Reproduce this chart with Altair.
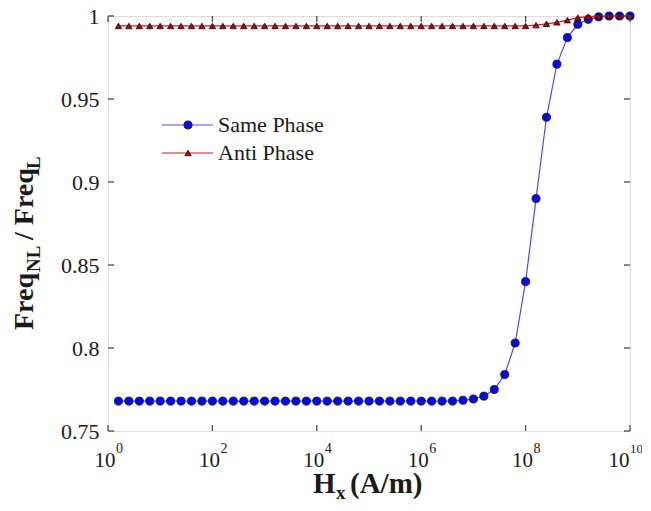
import altair as alt
import pandas as pd

# ---------------- data ----------------
h_exponents = [0.2, 0.4, 0.6, 0.8, 1.0, 1.2, 1.4, 1.6, 1.8, 2.0,
               2.2, 2.4, 2.6, 2.8, 3.0, 3.2, 3.4, 3.6, 3.8, 4.0,
               4.2, 4.4, 4.6, 4.8, 5.0, 5.2, 5.4, 5.6, 5.8, 6.0,
               6.2, 6.4, 6.6, 6.8, 7.0, 7.2, 7.4, 7.6, 7.8, 8.0,
               8.2, 8.4, 8.6, 8.8, 9.0, 9.2, 9.4, 9.6, 9.8, 10.0]

same_phase = [0.768, 0.768, 0.768, 0.768, 0.768, 0.768, 0.768, 0.768, 0.768, 0.768,
              0.768, 0.768, 0.768, 0.768, 0.768, 0.768, 0.768, 0.768, 0.768, 0.768,
              0.768, 0.768, 0.768, 0.768, 0.768, 0.768, 0.768, 0.768, 0.768, 0.768,
              0.768, 0.768, 0.768, 0.7685, 0.7693, 0.771, 0.775, 0.784, 0.803, 0.840,
              0.890, 0.939, 0.971, 0.987, 0.995, 0.998, 0.9995, 1.0, 1.0, 1.0]

anti_phase = [0.994, 0.994, 0.994, 0.994, 0.994, 0.994, 0.994, 0.994, 0.994, 0.994,
              0.994, 0.994, 0.994, 0.994, 0.994, 0.994, 0.994, 0.994, 0.994, 0.994,
              0.994, 0.994, 0.994, 0.994, 0.994, 0.994, 0.994, 0.994, 0.994, 0.994,
              0.994, 0.994, 0.994, 0.994, 0.994, 0.994, 0.994, 0.994, 0.994, 0.994,
              0.9945, 0.9953, 0.9962, 0.9975, 0.999, 0.9996, 1.0, 1.0, 1.0, 1.0]

series_names = ["Same Phase", "Anti Phase"]
x_tick_exponents = [0, 2, 4, 6, 8, 10]
y_ticks = [0.75, 0.8, 0.85, 0.9, 0.95, 1.0]

# ---------------- layout / style ----------------
W, H = 522, 415
FONT = "'Liberation Serif', 'Times New Roman', Times, serif"
BLUE_LINE = "#4a4aff"
BLUE_FILL = "#0a0ae0"
RED_LINE = "#e3121c"
RED_FILL = "#a80a0a"
AXIS_COLOR = "#4a4a4a"
TEXT_COLOR = "#1a1a1a"

df = pd.DataFrame({
    "H": [10 ** e for e in h_exponents],
    "same": same_phase,
    "anti": anti_phase,
})
xt = pd.DataFrame({
    "H": [10 ** e for e in x_tick_exponents],
    "exp": [str(e) for e in x_tick_exponents],
})
yt = pd.DataFrame({"v": y_ticks})

xs = alt.Scale(type="log", domain=[1, 1e10], nice=False)
ys = alt.Scale(domain=[0.75, 1.0], nice=False, zero=False)

X = alt.X("H:Q", scale=xs, axis=None)

yaxis = alt.Axis(values=y_ticks, format="~g", ticks=False, domain=False, grid=False,
                 labelFont=FONT, labelFontSize=22, labelColor=TEXT_COLOR,
                 labelPadding=9, title=None)


def Y(field):
    return alt.Y(field, scale=ys, axis=yaxis)


base = alt.Chart(df)

blue_line = base.mark_line(color=BLUE_LINE, strokeWidth=1.2).encode(x=X, y=Y("same:Q"))
blue_pts = base.mark_point(shape="circle", filled=True, fill=BLUE_FILL, stroke="#10103a",
                           strokeWidth=0.8, size=66, opacity=1).encode(x=X, y=Y("same:Q"))
red_line = base.mark_line(color=RED_LINE, strokeWidth=1.2).encode(x=X, y=Y("anti:Q"))
red_pts = base.mark_point(shape="triangle-up", filled=True, fill=RED_FILL, stroke="#200000",
                          strokeWidth=0.8, size=40, opacity=1).encode(x=X, y=Y("anti:Q"))

# inward ticks on all four sides
tick_x_bottom = alt.Chart(xt).mark_rule(color=AXIS_COLOR, strokeWidth=1.3).encode(
    x=X, y=alt.value(H), y2=alt.value(H - 6))
tick_x_top = alt.Chart(xt).mark_rule(color=AXIS_COLOR, strokeWidth=1.3).encode(
    x=X, y=alt.value(0), y2=alt.value(6))
tick_y_left = alt.Chart(yt).mark_rule(color=AXIS_COLOR, strokeWidth=1.3).encode(
    y=Y("v:Q"), x=alt.value(0), x2=alt.value(6))
tick_y_right = alt.Chart(yt).mark_rule(color=AXIS_COLOR, strokeWidth=1.3).encode(
    y=Y("v:Q"), x=alt.value(W), x2=alt.value(W - 6))

# x tick labels: 10 with superscript exponent
xt_inner = alt.Chart(xt).transform_filter(alt.datum.exp != "10")
xt_last = alt.Chart(xt).transform_filter(alt.datum.exp == "10")
xlab_base = xt_inner.mark_text(font=FONT, fontSize=21, color=TEXT_COLOR,
                               align="center", baseline="alphabetic", dx=-3).encode(
    x=X, y=alt.value(451), text=alt.value("10"))
xlab_exp = xt_inner.mark_text(font=FONT, fontSize=14, color=TEXT_COLOR,
                              align="left", baseline="alphabetic", dx=8).encode(
    x=X, y=alt.value(437), text="exp:N")
xlab_base_last = xt_last.mark_text(font=FONT, fontSize=21, color=TEXT_COLOR,
                                   align="center", baseline="alphabetic", dx=-11).encode(
    x=X, y=alt.value(451), text=alt.value("10"))
xlab_exp_last = xt_last.mark_text(font=FONT, fontSize=13, color=TEXT_COLOR,
                                  align="left", baseline="alphabetic", dx=0).encode(
    x=X, y=alt.value(437), text="exp:N")

# legend (drawn by hand: line + marker + label)
leg = pd.DataFrame({"name": series_names})
leg_same = alt.Chart(leg).transform_filter(alt.datum.name == series_names[0])
leg_anti = alt.Chart(leg).transform_filter(alt.datum.name == series_names[1])
LY1, LY2 = 109, 137
legend_layers = [
    leg_same.mark_rule(color=BLUE_LINE, strokeWidth=1.2).encode(
        x=alt.value(54), x2=alt.value(105), y=alt.value(LY1)),
    leg_same.mark_point(shape="circle", filled=True, fill=BLUE_FILL, stroke="#10103a",
                        strokeWidth=0.8, size=66, opacity=1).encode(
        x=alt.value(80), y=alt.value(LY1)),
    leg_same.mark_text(font=FONT, fontSize=22, color=TEXT_COLOR, align="left",
                       baseline="middle").encode(
        x=alt.value(110), y=alt.value(LY1), text="name:N"),
    leg_anti.mark_rule(color=RED_LINE, strokeWidth=1.2).encode(
        x=alt.value(54), x2=alt.value(105), y=alt.value(LY2)),
    leg_anti.mark_point(shape="triangle-up", filled=True, fill=RED_FILL, stroke="#200000",
                        strokeWidth=0.8, size=40, opacity=1).encode(
        x=alt.value(80), y=alt.value(LY2)),
    leg_anti.mark_text(font=FONT, fontSize=22, color=TEXT_COLOR, align="left",
                       baseline="middle").encode(
        x=alt.value(110), y=alt.value(LY2), text="name:N"),
]


def label(text, x, y, size, angle=0):
    kw = dict(font=FONT, fontSize=size, fontWeight="bold", color=TEXT_COLOR,
              align="left", baseline="alphabetic")
    if angle:
        kw["angle"] = angle
    return alt.Chart(pd.DataFrame({"t": [text]})).mark_text(**kw).encode(
        x=alt.value(x), y=alt.value(y), text="t:N")


# x-axis title: H_x (A/m)
x_title = [
    label("H", 205, 477, 29),
    label("x", 228, 483, 19),
    label("(A/m)", 242, 477, 29),
]
# y-axis title: Freq_NL / Freq_L (rotated, reading upward)
y_title = [
    label("Freq", -75, 314, 28, 270),
    label("NL", -68, 256, 19, 270),
    label("/ Freq", -75, 224, 28, 270),
    label("L", -68, 153, 19, 270),
]

chart = alt.layer(
    blue_line, blue_pts, red_line, red_pts,
    tick_x_bottom, tick_x_top, tick_y_left, tick_y_right,
    xlab_base, xlab_exp, xlab_base_last, xlab_exp_last,
    *legend_layers, *x_title, *y_title,
).properties(
    width=W, height=H,
    autosize=alt.AutoSizeParams(type="none"),
    padding={"left": 100, "top": 8, "right": 12, "bottom": 70},
).configure_view(
    stroke=AXIS_COLOR, strokeWidth=1.6
).configure(background="white")

chart.save("out.html", embed_options={"renderer": "svg", "actions": False})
